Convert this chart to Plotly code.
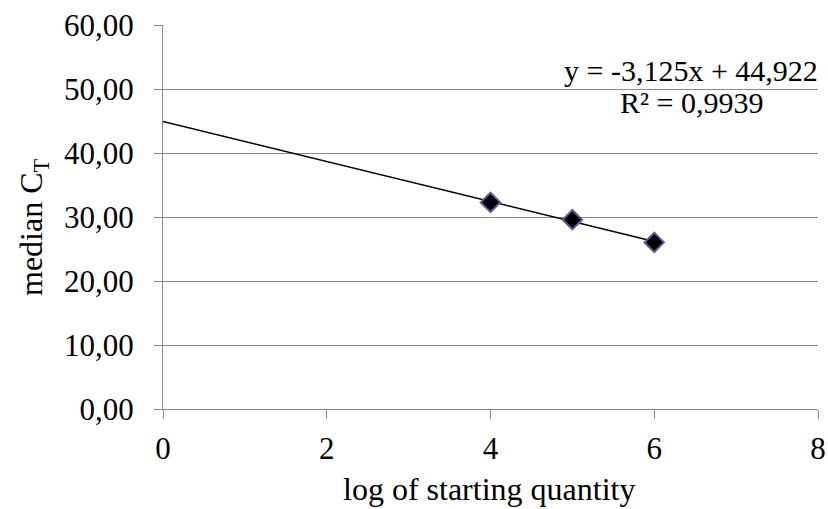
import plotly.graph_objects as go

# Standard curve: log of starting quantity vs. median CT
log_qty = [4, 5, 6]
median_ct = [32.28, 29.58, 26.03]

# Linear trendline coefficients (shown in the equation label)
slope = -3.125
intercept = 44.922
r_squared = 0.9939
trend_x = [0, 6]

x_ticks = [0, 2, 4, 6, 8]
y_ticks = [0, 10, 20, 30, 40, 50, 60]

FONT = "Liberation Serif, Times New Roman, serif"
GRID = "#8c8c8c"

W, H = 828, 509
ML, MR, MT, MB = 163, 10, 25, 100
PW, PH = W - ML - MR, H - MT - MB


def px_x(px):
    """Pixel column -> paper fraction."""
    return (px - ML) / PW


def px_y(py):
    """Pixel row -> paper fraction."""
    return (H - MB - py) / PH


def fmt(v, nd):
    return f"{v:.{nd}f}".replace(".", ",")


trend_y = [slope * x + intercept for x in trend_x]

fig = go.Figure()
fig.add_trace(go.Scatter(
    x=trend_x, y=trend_y, mode="lines",
    line=dict(color="black", width=1.3),
    hoverinfo="skip", showlegend=False,
))
fig.add_trace(go.Scatter(
    x=log_qty, y=median_ct, mode="markers",
    marker=dict(symbol="diamond", size=15, color="black",
                line=dict(color="#5e5e9a", width=2)),
    showlegend=False,
))

# Trendline equation and R², two centred lines
eq_lines = [f"y = {fmt(slope, 3)}x + {fmt(intercept, 3)}",
            f"R² = {fmt(r_squared, 4)}"]
for text, cy in zip(eq_lines, [71, 102]):
    fig.add_annotation(
        x=px_x(691), y=px_y(cy), xref="paper", yref="paper", text=text,
        showarrow=False, xanchor="center", yanchor="middle",
        font=dict(family=FONT, size=30, color="black"),
    )

# Y axis title with subscript
fig.add_annotation(
    x=px_x(33), y=px_y(227), xref="paper", yref="paper",
    text="median C<sub>T</sub>", textangle=-90,
    showarrow=False, xanchor="center", yanchor="middle",
    font=dict(family=FONT, size=32, color="black"),
)
# X axis title
fig.add_annotation(
    x=px_x(489), y=px_y(489), xref="paper", yref="paper",
    text="log of starting quantity",
    showarrow=False, xanchor="center", yanchor="middle",
    font=dict(family=FONT, size=32, color="black"),
)

fig.update_layout(
    width=W, height=H,
    margin=dict(l=ML, r=MR, t=MT, b=MB),
    paper_bgcolor="white", plot_bgcolor="white",
    separators=", ",
    font=dict(family=FONT, size=30, color="black"),
    xaxis=dict(
        range=[0, 8], tickvals=x_ticks, tickformat="d",
        showgrid=False, zeroline=False, automargin=False,
        showline=True, linecolor=GRID, linewidth=1,
        ticks="outside", ticklen=9, tickcolor=GRID, tickwidth=1,
        ticklabelstandoff=3,
        tickfont=dict(family=FONT, size=31),
    ),
    yaxis=dict(
        range=[0, 60], tickvals=y_ticks, tickformat=".2f",
        showgrid=True, gridcolor=GRID, gridwidth=1, zeroline=False,
        automargin=False,
        showline=True, linecolor=GRID, linewidth=1,
        ticks="outside", ticklen=8, tickcolor=GRID, tickwidth=1,
        ticklabelstandoff=14,
        tickfont=dict(family=FONT, size=31),
    ),
)

fig.write_html("out.html")
